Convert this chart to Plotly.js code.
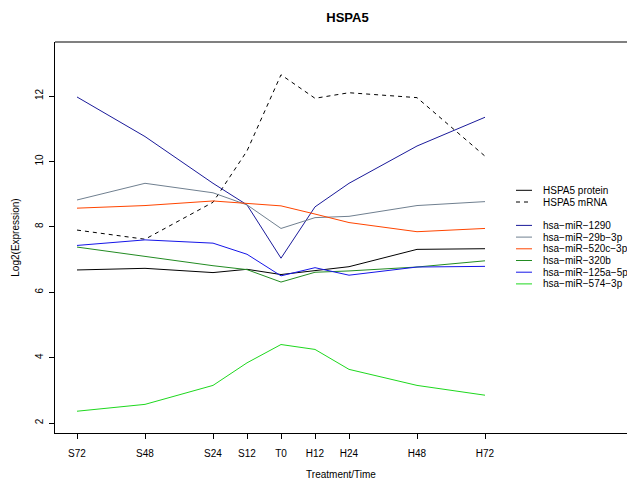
<!DOCTYPE html>
<html>
<head>
<meta charset="utf-8">
<script src="https://cdn.plot.ly/plotly-3.0.1.min.js"></script>
<style>
  html, body { margin: 0; padding: 0; background: #fff; }
  #chart { width: 627px; height: 483px; }
</style>
</head>
<body>
<div id="chart"></div>
<script>
// Time points: negative = serum starvation (S), 0 = T0, positive = hours after (H)
const timeHours = [-72, -48, -24, -12, 0, 12, 24, 48, 72];
const timeLabels = ["S72", "S48", "S24", "S12", "T0", "H12", "H24", "H48", "H72"];

// Log2 expression per series
const hspa5Protein = [6.68, 6.73, 6.60, 6.70, 6.54, 6.65, 6.78, 7.31, 7.33];
const hspa5mRNA    = [7.90, 7.62, 8.75, 10.32, 12.65, 11.93, 12.10, 11.95, 10.16];
const mir1290      = [11.97, 10.76, 9.33, 8.67, 7.04, 8.61, 9.33, 10.47, 11.35];
const mir29b       = [8.82, 9.33, 9.04, 8.67, 7.95, 8.28, 8.32, 8.65, 8.77];
const mir520c      = [8.57, 8.65, 8.79, 8.72, 8.64, 8.39, 8.13, 7.85, 7.95];
const mir320b      = [7.38, 7.09, 6.81, 6.69, 6.31, 6.61, 6.65, 6.77, 6.96];
const mir125a      = [7.43, 7.60, 7.50, 7.16, 6.50, 6.75, 6.52, 6.77, 6.79];
const mir574       = [2.36, 2.57, 3.15, 3.84, 4.40, 4.25, 3.64, 3.15, 2.85];

const seriesNames = ["HSPA5 protein", "HSPA5 mRNA", "hsa-miR-1290", "hsa-miR-29b-3p",
                     "hsa-miR-520c-3p", "hsa-miR-320b", "hsa-miR-125a-5p", "hsa-miR-574-3p"];
const seriesValues = [hspa5Protein, hspa5mRNA, mir1290, mir29b, mir520c, mir320b, mir125a, mir574];

const seriesColors = ["#000000", "#000000", "#1a1a9a", "#708090",
                      "#ff4500", "#228b22", "#1515e8", "#1ed81e"];
const seriesDash = ["solid", "4px,4px", "solid", "solid", "solid", "solid", "solid", "solid"];

const FONT = "'Liberation Sans', Arial, Helvetica, sans-serif";

// plot region in pixels
const W = 627, H = 483;
const L = 55, T = 42, B = 433, R = 627;
const pw = R - L, ph = B - T;
const px2paperX = p => (p - L) / pw;
const px2paperY = p => (B - p) / ph;

const traces = seriesValues.map((vals, i) => ({
  x: timeHours,
  y: vals,
  type: "scatter",
  mode: "lines",
  name: seriesNames[i],
  line: { color: seriesColors[i], width: 1, dash: seriesDash[i] },
  showlegend: false,
  hoverinfo: "x+y+name"
}));

// Hand-laid legend: short line sample + label, blank row between the two groups.
// Hyphens in the labels are typeset as minus signs.
const legendRows = [0, 1, 3, 4, 5, 6, 7, 8];
const legendTop = 190.3, legendStep = 11.7;
const shapes = [];
const annotations = [];
seriesNames.forEach((name, i) => {
  const py = legendTop + legendRows[i] * legendStep;
  shapes.push({
    type: "line", xref: "paper", yref: "paper",
    x0: px2paperX(516), x1: px2paperX(532),
    y0: px2paperY(py), y1: px2paperY(py),
    line: { color: seriesColors[i], width: 1, dash: seriesDash[i] }
  });
  annotations.push({
    xref: "paper", yref: "paper",
    x: px2paperX(541), y: px2paperY(py),
    xanchor: "left", yanchor: "middle",
    text: name.replace(/-/g, "\u2212"), showarrow: false,
    font: { family: FONT, size: 10, color: "#000" }
  });
});

// gray upper frame line
shapes.push({
  type: "line", xref: "paper", yref: "paper",
  x0: 0, x1: 1, y0: 1, y1: 1,
  line: { color: "#808080", width: 2 }
});

const layout = {
  width: W, height: H,
  margin: { l: L, r: W - R, t: T, b: H - B, pad: 0 },
  paper_bgcolor: "#fff", plot_bgcolor: "#fff",
  font: { family: FONT, size: 10, color: "#000" },
  title: {
    text: "<b>HSPA5</b>",
    xref: "container", yref: "container",
    x: 347.5 / W, y: 1 - 17 / H,
    xanchor: "center", yanchor: "middle",
    font: { family: FONT, size: 13, color: "#000" }
  },
  xaxis: {
    range: [-72 - (77 - L) / (408 / 144), 72 + (R - 485) / (408 / 144)],
    tickmode: "array", tickvals: timeHours, ticktext: timeLabels,
    ticks: "outside", ticklen: 5, tickwidth: 1, tickcolor: "#000",
    showline: true, linecolor: "#000", linewidth: 1,
    showgrid: false, zeroline: false,
    ticklabelstandoff: 6,
    tickfont: { family: FONT, size: 10, color: "#000" },
    title: { text: "Treatment/Time", standoff: 12, font: { family: FONT, size: 10, color: "#000" } },
    automargin: false
  },
  yaxis: {
    range: [2 - (B - 423) / 32.7, 12 + (96 - T) / 32.7],
    tickmode: "array", tickvals: [2, 4, 6, 8, 10, 12],
    ticks: "outside", ticklen: 5, tickwidth: 1, tickcolor: "#000",
    tickangle: -90,
    showline: true, linecolor: "#000", linewidth: 1,
    showgrid: false, zeroline: false,
    ticklabelstandoff: 2,
    tickfont: { family: FONT, size: 10, color: "#000" },
    title: { text: "Log2(Expression)", standoff: 12, font: { family: FONT, size: 10, color: "#000" } },
    automargin: false
  },
  shapes: shapes,
  annotations: annotations,
  showlegend: false
};

Plotly.newPlot("chart", traces, layout, { displayModeBar: false, staticPlot: true });
</script>
</body>
</html>
